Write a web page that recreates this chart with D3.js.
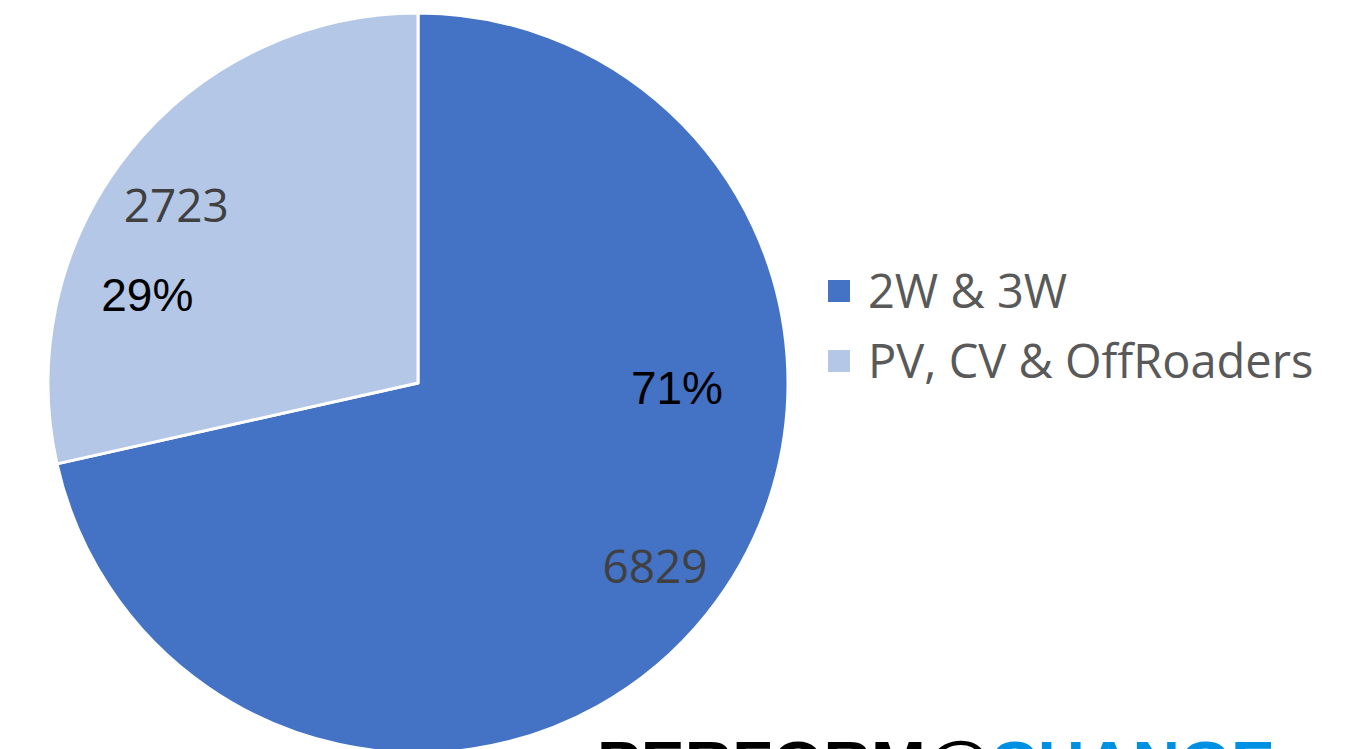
<!DOCTYPE html>
<html>
<head>
<meta charset="utf-8">
<script src="https://cdn.jsdelivr.net/npm/d3@7"></script>
<style>
  html, body { margin: 0; padding: 0; background: #fff; overflow: hidden; }
</style>
</head>
<body>
<div id="chart"></div>
<script>
const categories = ['2W & 3W', 'PV, CV & OffRoaders'];
const values = [6829, 2723];
const colors = ['#4472C4', '#B4C7E7'];

const width = 1345;
const height = 749;
const cx = 418;
const cy = 383;
const radius = 370;

// label placement: angle (deg, clockwise from top) and distance from centre
const valuePos = [{a: 127.8, r: 300}, {a: 306.3, r: 300}];
const pctPos = [{a: 91, r: 259}, {a: 288.2, r: 285}];

const svg = d3.select('#chart').append('svg')
  .attr('width', width)
  .attr('height', height);

const total = d3.sum(values);
const pie = d3.pie().sort(null).value(d => d)(values);
const arc = d3.arc().innerRadius(0).outerRadius(radius);

const g = svg.append('g').attr('transform', `translate(${cx},${cy})`);

g.selectAll('path.slice')
  .data(pie)
  .enter().append('path')
    .attr('class', 'slice')
    .attr('d', arc)
    .attr('fill', (d, i) => colors[i])
    .attr('stroke', '#fff')
    .attr('stroke-width', 3)
    .attr('stroke-linejoin', 'round');

const polar = p => {
  const t = p.a * Math.PI / 180;
  return [Math.sin(t) * p.r, -Math.cos(t) * p.r];
};

g.selectAll('text.value')
  .data(pie)
  .enter().append('text')
    .attr('class', 'value')
    .attr('x', (d, i) => polar(valuePos[i])[0])
    .attr('y', (d, i) => polar(valuePos[i])[1])
    .attr('dy', '0.36em')
    .attr('text-anchor', 'middle')
    .attr('font-family', '"Open Sans", sans-serif')
    .attr('font-size', 46)
    .attr('fill', '#404040')
    .text(d => d.data);

g.selectAll('text.pct')
  .data(pie)
  .enter().append('text')
    .attr('class', 'pct')
    .attr('x', (d, i) => polar(pctPos[i])[0])
    .attr('y', (d, i) => polar(pctPos[i])[1])
    .attr('dy', '0.36em')
    .attr('text-anchor', 'middle')
    .attr('font-family', '"Liberation Sans", Arial, sans-serif')
    .attr('font-size', 46)
    .attr('fill', '#000')
    .text(d => Math.round(d.data / total * 100) + '%');

// legend
const legend = svg.append('g').attr('transform', 'translate(828,280)');
const item = legend.selectAll('g.item')
  .data(categories)
  .enter().append('g')
    .attr('class', 'item')
    .attr('transform', (d, i) => `translate(0,${i * 70})`);

item.append('rect')
  .attr('width', 22)
  .attr('height', 22)
  .attr('fill', (d, i) => colors[i]);

item.append('text')
  .attr('x', 40)
  .attr('y', 28)
  .attr('font-family', '"Open Sans", sans-serif')
  .attr('font-size', 47)
  .attr('fill', '#595959')
  .text(d => d);

// watermark, cut off at the bottom as in the original
const mark = svg.append('text')
  .attr('x', 597)
  .attr('y', 784)
  .attr('font-family', '"Liberation Sans", Arial, sans-serif')
  .attr('font-weight', 900)
  .attr('font-size', 62)
  .attr('textLength', 678)
  .attr('lengthAdjust', 'spacingAndGlyphs');
mark.append('tspan').attr('fill', '#000').text('PERFORM@');
mark.append('tspan').attr('fill', '#0090E3').text('CHANGE');
</script>
</body>
</html>
